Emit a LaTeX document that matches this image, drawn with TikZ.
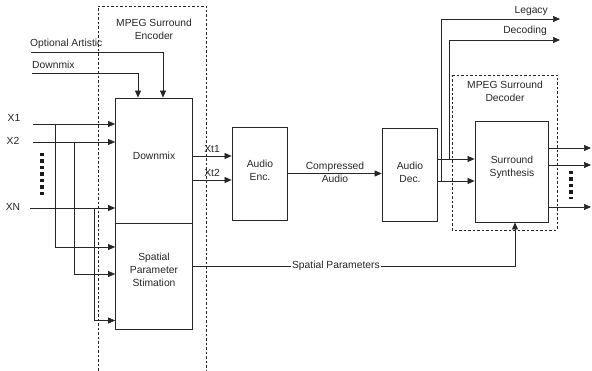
\documentclass[tikz,border=0pt]{standalone}
\usepackage{fontspec}
\setmainfont{Liberation Sans}
\usetikzlibrary{arrows.meta}
\begin{document}
\begin{tikzpicture}[x=1pt,y=-1pt,
  lbl/.style={font=\fontsize{10.3}{13}\selectfont, inner sep=0pt, align=center, text=black!85},
  blk/.style={draw=black!85, line width=0.8pt, inner sep=0pt},
  ln/.style={line width=0.7pt, draw=black!85},
  arr/.style={ln, -{Triangle[length=7pt,width=6pt]}},
  dsh/.style={line width=0.7pt, draw=black!85, dash pattern=on 2.5pt off 2pt},
  dotcol/.style={line width=3.5pt, draw=black!90, dash pattern=on 3.5pt off 3pt}]
\useasboundingbox (0,0) rectangle (592,371);

% dashed groups
\draw[dsh] (98,371) -- (98,6) -- (206,6) -- (206,371);
\node[lbl] (enclbl) at (154,29.5) {MPEG Surround\\Encoder};
\draw[dsh] (452,75) rectangle (557,230);
\node[lbl] (declbl) at (505,91.5) {MPEG Surround\\Decoder};

% blocks
\node[blk, minimum width=77pt, minimum height=125pt] (dm) at (154,160.5) {};
\node[blk, minimum width=77pt, minimum height=106pt] (sp) at (154,276) {};
\node[lbl] (dmt) at (154,156) {Downmix};
\node[lbl] (spt) at (154,270) {Spatial\\Parameter\\Stimation};
\node[blk, minimum width=55pt, minimum height=93pt] (ae) at (259.5,173.5) {};
\node[lbl] (aet) at (260,170.5) {Audio\\Enc.};
\node[blk, minimum width=55pt, minimum height=93pt] (ad) at (409.5,174.5) {};
\node[lbl] (adt) at (410,172) {Audio\\Dec.};
\node[blk, minimum width=73pt, minimum height=101pt] (ss) at (511.5,171.5) {};
\node[lbl] (sst) at (512,167) {Surround\\Synthesis};

% top inputs
\node[lbl, anchor=west] (oa) at (30,44) {Optional Artistic};
\node[lbl, anchor=west] (dmx) at (32,65) {Downmix};
\coordinate (oas) at (31,52);
\coordinate (dms) at (32,73);
\draw[arr] (oas) -| ([xshift=9pt]dm.north);
\draw[arr] (dms) -| ([xshift=-16pt]dm.north);

% X inputs
\node[lbl] (x1) at (14,118) {X1};
\node[lbl] (x2) at (13,141) {X2};
\node[lbl] (xn) at (13,207) {XN};
\coordinate (x1s) at (33,124);
\coordinate (x2s) at (33,142);
\coordinate (xns) at (30,208);
\draw[arr] (x1s) -- (x1s -| dm.west);
\draw[arr] (x2s) -- (x2s -| dm.west);
\draw[arr] (xns) -- (xns -| dm.west);
\draw[dotcol] (42,153) -- (42,198);
\coordinate (b1) at (55,124);
\coordinate (b2) at (74,142);
\coordinate (bn) at (94,208);
\draw[arr] (b1) |- ([yshift=29pt]sp.west);
\draw[arr] (b2) |- ([yshift=2pt]sp.west);
\draw[arr] (bn) |- ([yshift=-44.5pt]sp.west);

% Xt outputs
\draw[arr] ([yshift=4.5pt]dm.east) coordinate (t1) -- (t1 -| ae.west);
\draw[arr] ([yshift=-19.5pt]dm.east) coordinate (t2) -- (t2 -| ae.west);
\node[lbl] (xt1) at (212,149) {Xt1};
\node[lbl] (xt2) at (212,173) {Xt2};

% compressed audio
\draw[arr] (ae.east) -- (ae.east -| ad.west);
\node[lbl] (ca) at (335,172.5) {Compressed\\Audio};

% audio dec outputs
\draw[arr] ([yshift=15.5pt]ad.east) coordinate (u1) -- (u1 -| ss.west);
\draw[arr] ([yshift=-6.5pt]ad.east) coordinate (u2) -- (u2 -| ss.west);
\coordinate (lgE) at (560,19);
\coordinate (dcE) at (560,40);
\draw[arr] (u2 -| 441,0) |- (lgE);
\draw[arr] (u1 -| 449,0) |- (dcE);
\node[lbl, anchor=east] (lg) at (548,11) {Legacy};
\node[lbl, anchor=east] (dc) at (547,31) {Decoding};

% synthesis outputs
\coordinate (o1) at (591,148);
\coordinate (o2) at (591,165);
\coordinate (o3) at (591,207);
\draw[arr] (o1 -| ss.east) -- (o1);
\draw[arr] (o2 -| ss.east) -- (o2);
\draw[arr] (o3 -| ss.east) -- (o3);
\draw[dotcol] (571,171) -- (571,199);

% spatial parameters
\draw[arr] ([yshift=10pt]sp.east) -| ([xshift=3.5pt]ss.south)
  node[lbl, pos=0.222, fill=white, inner xsep=1pt, inner ysep=1.5pt] (spl) {Spatial Parameters};
\end{tikzpicture}
\end{document}
